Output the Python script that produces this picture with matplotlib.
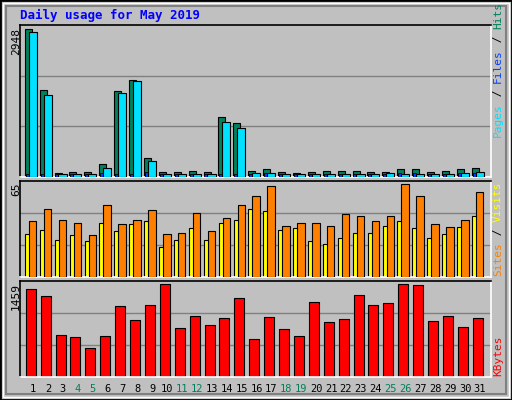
import matplotlib.pyplot as plt
from matplotlib.patches import Rectangle

# daily values, May 2019
days = list(range(1, 32))
hits = [2948, 1726, 86, 106, 106, 266, 1706, 1939, 385, 106, 106, 126, 106, 1202, 1082,
        126, 153, 106, 86, 106, 126, 126, 126, 106, 106, 153, 153, 106, 126, 153, 173]
files = [60, 60, 50, 60, 60, 70, 60, 60, 90, 60, 60, 60, 60, 60, 60,
         60, 80, 60, 50, 60, 60, 60, 60, 60, 60, 80, 80, 60, 60, 70, 80]
pages = [2895, 1640, 60, 60, 60, 173, 1680, 1906, 325, 60, 60, 60, 60, 1102, 983,
         80, 80, 60, 60, 60, 60, 60, 60, 60, 80, 60, 60, 60, 60, 80, 93]
visits = [39.6, 48, 40.3, 38.2, 29.7, 50.2, 37.4, 40.3, 47.3, 30.4, 31.1, 45.2, 32.5, 41.7, 50.2,
          57.2, 63.6, 36, 38.2, 38.2, 36, 44.5, 43.1, 39.6, 43.1, 65, 57.2, 37.4, 35.3, 40.3, 60]
sites = [30.4, 33.2, 26.1, 29.7, 25.4, 38.2, 32.5, 37.4, 39.6, 21.2, 26.1, 34.6, 26.1, 38.2, 40.3,
         48, 46.6, 33.2, 34.6, 25.4, 23.3, 27.6, 31.1, 31.1, 36, 39.6, 34.6, 27.6, 30.4, 35.3, 43.1]
kbytes = [1379, 1283, 660, 628, 453, 644, 1124, 900, 1139, 1459, 772, 964, 820, 932, 1251,
          596, 948, 756, 644, 1187, 868, 916, 1299, 1139, 1171, 1459, 1443, 884, 964, 788, 932]
weekends = [4, 5, 11, 12, 18, 19, 25, 26]

W, H = 512, 400
fig = plt.figure(figsize=(W / 100, H / 100), dpi=100)
fig.patch.set_facecolor('#C0C0C0')
mono = 'DejaVu Sans Mono'

# frame and bevel
fig.add_artist(Rectangle((0, 0), 1, 1, transform=fig.transFigure, fill=False, ec='black', lw=2))
fig.add_artist(Rectangle((3 / W, 3 / H), 1 - 6 / W, 1 - 6 / H, transform=fig.transFigure,
                         fill=False, ec='white', lw=1))
fig.add_artist(Rectangle((6 / W, 6 / H), 1 - 12 / W, 1 - 12 / H, transform=fig.transFigure,
                         fill=False, ec='#808080', lw=1.5))

fig.text(20 / W, 1 - 15 / H, 'Daily usage for May 2019', color='#0000FF', fontsize=9,
         fontweight='bold', family=mono, va='center', ha='left')


def panel(top, bottom):
    ax = fig.add_axes([20 / W, 1 - bottom / H, 471 / W, (bottom - top) / H])
    ax.set_facecolor('#C0C0C0')
    ax.set_xlim(0.128, 31.74)
    ax.set_xticks([])
    ax.set_yticks([])
    ax.spines['left'].set_color('black')
    ax.spines['top'].set_color('black')
    ax.spines['right'].set_color('white')
    ax.spines['bottom'].set_color('white')
    for s in ax.spines.values():
        s.set_linewidth(1.2)
    return ax


def gridlines(ax, ymax):
    for f in (1 / 3, 2 / 3):
        ax.axhline(ymax * f, color='#808080', lw=1, zorder=0)


ax1 = panel(25, 177)
ax1.set_ylim(0, 3028)
gridlines(ax1, 3028)
ax1.bar([d - 0.32 for d in days], hits, width=0.47, color='#00805C', ec='black', lw=0.8, zorder=2)
ax1.bar([d - 0.39 for d in days], files, width=0.2, color='#0040FF', ec='black', lw=0.6, zorder=3)
ax1.bar([d - 0.02 for d in days], pages, width=0.54, color='#00E0FF', ec='black', lw=0.8, zorder=4)

ax2 = panel(181, 277)
ax2.set_ylim(0, 67.4)
gridlines(ax2, 67.4)
ax2.bar([d - 0.37 for d in days], sites, width=0.34, color='#FFFF00', ec='black', lw=0.8, zorder=2)
ax2.bar([d - 0.02 for d in days], visits, width=0.5, color='#FF8000', ec='black', lw=0.8, zorder=3)

ax3 = panel(281, 377)
ax3.set_ylim(0, 1512)
gridlines(ax3, 1512)
ax3.bar([d - 0.15 for d in days], kbytes, width=0.67, color='#FF0000', ec='black', lw=0.8, zorder=2)

# left max labels
for y, txt in [(28, '2948'), (182, '65'), (283, '1459')]:
    fig.text(16 / W, 1 - y / H, txt, rotation=90, fontsize=8, family=mono, ha='center', va='top')

renderer = fig.canvas.get_renderer()


# right legends, read bottom to top
def vlegend(y0, parts):
    y = y0
    for txt, col in parts:
        t = fig.text(498 / W, 1 - y / H, txt, rotation=90, fontsize=8, family=mono,
                     color=col, ha='center', va='bottom')
        y -= t.get_window_extent(renderer).height


vlegend(137, [('Pages', '#00E0FF'), (' / ', '#000000'), ('Files', '#0040FF'),
              (' / ', '#000000'), ('Hits', '#00805C')])
vlegend(276, [('Sites', '#FF8000'), (' / ', '#000000'), ('Visits', '#FFFF00')])
vlegend(376, [('KBytes', '#FF0000')])

# day labels
for d in days:
    x = (33 + (d - 1) * 14.9) / W
    col = '#00805C' if d in weekends else 'black'
    fig.text(x, 1 - 389 / H, str(d), color=col, fontsize=7.5, family=mono, ha='center', va='center')

fig.savefig('out.png', dpi=100, facecolor=fig.get_facecolor())
